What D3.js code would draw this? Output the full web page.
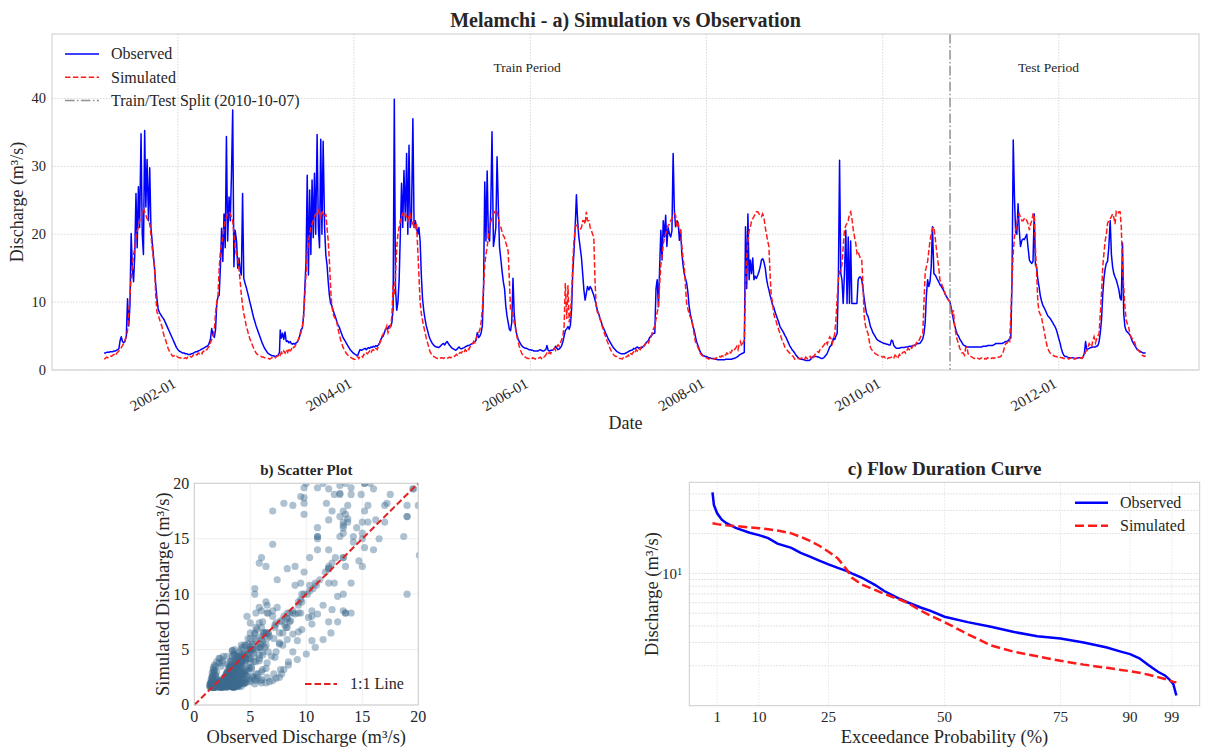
<!DOCTYPE html>
<html><head><meta charset="utf-8">
<script src="https://cdn.jsdelivr.net/npm/d3@7"></script>
<style>
body{margin:0;background:#fff}
svg text{font-family:"Liberation Serif","Times New Roman",serif;fill:#262626}
</style>
</head><body>
<svg id="chart" width="1208" height="749"></svg>
<script>
// ---------------- DATA ----------------
const firstMonth = "2001-03";
const lastMonth = "2012-12";
const seriesEnd = "2012-12-31";
const splitDate = "2010-10-07";
const pentadDays = [1, 6, 11, 16, 21, 26];

// Observed discharge (m3/s), one value per pentad, Mar 2001 - Dec 2012
const observed = [
// 2001 Mar-Dec
2.5,2.5,2.6,2.6,2.6,2.7, 2.7,2.7,2.8,2.8,2.9,3.0, 3.1,4.3,4.9,4.2,4.0,4.2, 5.0,10.5,6.5,9.5,20.1,15.0,
13.0,17.0,26.0,18.0,27.0,21.0, 34.8,20.0,17.0,35.3,24.0,31.0, 22.0,29.8,21.0,19.0,17.0,15.0,
12.5,10.5,9.0,8.5,8.2,7.9, 7.6,7.3,6.9,6.5,6.1,5.7, 5.3,4.9,4.5,4.1,3.7,3.3,
// 2002
3.0,2.8,2.7,2.6,2.5,2.5, 2.4,2.4,2.3,2.3,2.3,2.4, 2.4,2.5,2.6,2.7,2.7,2.8, 2.9,3.0,3.1,3.2,3.3,3.4,
3.5,3.6,4.0,4.6,6.1,5.2, 4.8,6.0,9.8,10.8,11.0,15.2, 20.9,16.0,23.0,18.0,34.4,19.0, 25.5,22.0,29.0,38.3,15.2,20.6,
19.0,15.0,16.5,14.7,14.0,26.0, 13.5,12.8,12.2,11.5,10.8,10.0, 9.2,8.4,7.7,7.1,6.5,6.0, 5.5,5.0,4.5,4.0,3.6,3.2,
// 2003
2.9,2.6,2.4,2.3,2.2,2.1, 2.1,2.0,2.0,2.1,2.2,2.6, 5.9,4.7,5.4,4.5,5.6,4.2, 4.3,4.0,4.2,3.9,3.8,3.9,
3.8,4.0,4.1,4.5,5.0,5.9, 6.2,8.0,12.0,16.0,28.7,14.0, 26.5,17.0,28.0,19.5,29.0,20.0, 34.7,21.0,18.0,34.0,20.0,33.7,
21.0,17.0,15.5,13.0,11.0,9.8, 9.5,8.8,8.3,7.8,7.2,6.7, 6.3,5.8,5.3,4.8,4.5,4.2, 3.9,3.6,3.3,3.0,2.8,2.6,
// 2004
2.4,2.3,2.2,2.1,2.6,3.0, 2.9,3.0,3.1,3.2,3.0,3.2, 3.3,3.2,3.4,3.3,3.5,3.4, 3.6,3.5,3.7,4.0,4.5,4.8,
5.0,5.5,6.0,6.2,6.1,6.5, 6.4,7.0,9.0,39.9,12.0,8.8, 10.0,13.2,20.0,27.5,21.0,29.4, 22.0,31.9,20.0,33.1,21.0,22.0,
37.0,21.0,22.0,21.0,20.0,21.0, 19.0,14.0,10.5,8.8,7.6,6.6, 5.8,5.1,4.6,4.2,3.9,3.7, 3.5,3.4,3.4,3.3,3.4,3.6,
// 2005
3.8,3.9,3.7,4.0,4.2,3.9, 3.6,3.4,3.2,3.1,3.0,2.9, 3.0,3.2,3.4,3.2,3.1,3.2, 3.3,3.4,3.5,3.6,3.6,3.7,
3.8,3.9,4.0,4.2,4.4,5.5, 4.8,5.0,5.5,6.5,12.0,27.7, 19.0,29.3,19.5,19.0,24.0,35.1, 18.2,19.5,21.0,31.4,24.5,18.2,
16.2,14.5,13.0,12.0,9.5,8.0, 7.0,6.0,5.8,7.0,13.5,8.3, 6.0,5.2,4.6,4.2,3.9,3.6, 3.4,3.3,3.2,3.2,3.1,3.0,
// 2006
3.0,2.9,2.9,2.8,2.8,2.8, 2.8,2.9,3.0,2.9,2.8,2.8, 2.9,3.0,3.6,2.9,2.8,2.9, 2.9,3.0,3.2,3.5,3.2,3.0,
3.1,3.3,3.6,4.2,5.0,5.8, 6.1,6.4,6.0,6.6,9.0,14.5, 17.5,21.1,25.8,22.0,19.6,18.2, 16.5,14.2,11.8,10.3,11.3,12.3,
11.8,12.3,12.0,11.5,11.0,10.3, 9.6,8.8,8.3,7.7,7.2,6.6, 6.1,5.7,5.3,4.9,4.5,4.2, 3.9,3.6,3.3,3.1,2.9,2.7,
// 2007
2.6,2.5,2.4,2.4,2.4,2.4, 2.5,2.6,2.7,2.8,2.9,2.9, 3.0,3.2,3.1,3.3,3.4,3.2, 3.3,3.2,3.4,3.5,3.7,4.0,
4.2,4.4,4.8,5.0,5.2,5.4, 5.4,12.0,13.3,9.3,15.0,20.6, 16.2,22.0,19.6,22.8,18.2,21.0, 20.0,19.6,20.5,31.9,23.6,21.1,
22.0,21.6,19.1,20.6,17.2,15.5, 14.2,13.5,12.8,11.5,9.5,8.3, 7.3,6.4,5.9,5.0,4.2,3.7, 3.2,2.7,2.4,2.2,2.1,2.0,
// 2008
2.0,1.9,1.8,1.8,1.7,1.7, 1.7,1.6,1.6,1.5,1.5,1.5, 1.5,1.5,1.5,1.5,1.6,1.6, 1.6,1.6,1.6,1.6,1.7,1.7,
1.8,1.9,2.0,2.2,2.3,2.4, 2.5,2.6,21.1,12.0,23.0,13.3, 16.2,14.2,16.5,13.3,13.8,13.5, 14.0,14.5,15.2,16.2,16.4,16.0,
15.0,13.5,12.5,11.8,11.0,10.3, 9.6,9.3,8.6,8.1,7.6,7.1, 6.4,6.1,5.8,5.5,5.1,4.8, 4.4,4.0,3.6,3.3,3.0,2.8,
// 2009
2.5,2.2,2.0,1.8,1.7,1.6, 1.6,1.5,1.5,1.4,1.4,1.4, 1.4,1.5,1.7,1.9,2.0,2.0, 2.0,1.9,1.9,1.8,1.7,1.7,
1.8,2.0,2.2,2.5,2.9,3.4, 3.6,4.2,4.7,4.5,5.0,5.4, 13.3,30.9,14.2,13.3,9.8,14.0, 20.6,9.8,19.6,9.8,19.0,9.8,
9.8,9.8,9.8,9.8,13.3,13.7, 13.7,13.3,12.0,10.5,9.3,8.3, 7.9,7.2,6.4,6.0,5.5,5.2, 4.9,4.6,4.4,4.3,4.2,4.1,
// 2010
4.0,3.9,3.9,3.8,3.8,3.7, 3.7,4.4,4.3,3.6,3.4,3.2, 3.2,3.2,3.2,3.3,3.3,3.3, 3.3,3.4,3.4,3.4,3.5,3.5,
3.5,3.6,3.6,3.7,3.8,3.9, 3.9,4.0,4.3,4.6,5.4,7.0, 11.0,13.3,12.3,13.0,15.2,21.1, 14.2,14.0,13.7,13.3,13.0,12.6,
12.3,12.0,11.7,11.2,10.9,10.6, 10.3,10.1,9.3,8.5,7.4,6.6, 5.8,5.3,5.0,4.6,4.3,4.0, 3.7,3.6,3.5,3.4,3.4,3.4,
// 2011
3.4,3.4,3.4,3.4,3.4,3.4, 3.4,3.4,3.4,3.4,3.5,3.5, 3.5,3.5,3.6,3.6,3.6,3.6, 3.6,3.7,3.8,3.9,3.9,3.9,
3.9,3.9,3.9,4.0,4.1,4.2, 4.2,4.4,4.6,4.7,13.3,33.9, 25.5,20.3,20.0,24.5,20.6,18.2, 19.1,19.3,19.2,19.6,20.0,18.2,
16.2,15.9,15.7,16.0,23.0,15.5, 15.2,13.3,12.3,11.0,10.2,9.6, 9.2,8.8,8.4,8.0,7.8,7.6, 7.3,7.0,6.7,6.4,6.0,5.4,
// 2012
4.6,4.0,3.2,2.6,2.2,2.0, 2.0,1.9,1.8,1.8,1.8,1.8, 1.8,1.7,1.7,1.7,1.8,1.8, 1.8,1.8,1.9,2.5,4.2,2.9,
3.1,3.2,3.3,3.3,3.4,3.4, 3.4,3.5,3.6,4.2,5.5,7.4, 11.0,13.5,14.9,15.7,16.0,18.0, 22.0,17.0,15.2,14.2,13.7,13.3,
12.5,11.8,10.6,10.3,18.7,8.3, 6.4,5.8,5.6,5.4,5.2,4.8, 4.2,3.9,3.6,3.3,3.0,2.9, 2.8,2.7,2.6,2.5,2.5,2.5
];

// Simulated discharge (m3/s), same pentads
const simulated = [
// 2001 Mar-Dec
1.6,1.7,1.9,1.8,2.0,2.1, 2.0,2.2,2.3,2.1,2.4,2.6, 2.8,3.0,3.3,3.6,3.9,4.3, 5.0,5.8,8.3,11.0,13.5,15.5,
17.0,18.0,19.5,20.5,21.0,22.0, 22.5,23.5,23.8,23.3,22.8,22.3, 22.0,21.5,20.0,18.0,16.5,15.0,
11.0,8.5,8.2,7.5,7.0,6.5, 5.5,4.8,4.4,3.8,3.2,2.8, 2.5,2.2,2.0,2.1,1.9,2.0,
// 2002
1.9,1.8,1.8,1.7,1.8,1.7, 1.8,1.7,1.9,1.8,2.0,1.9, 2.0,2.2,2.1,2.3,2.2,2.5, 2.4,2.6,2.4,2.8,2.7,3.0,
3.0,3.3,3.5,4.0,4.5,5.0, 6.0,8.5,10.0,11.0,15.0,17.5, 18.5,19.5,21.0,22.0,22.5,23.0, 23.3,23.0,22.5,22.0,20.0,18.0,
17.0,16.5,15.0,13.0,11.0,9.5, 8.3,7.5,6.5,5.9,5.2,4.6, 4.1,3.6,3.2,2.8,2.5,2.3, 2.2,2.1,2.0,1.9,1.9,1.8,
// 2003
1.8,1.7,1.7,1.6,1.7,1.8, 1.8,1.7,1.9,2.0,2.1,2.4, 2.2,2.6,2.3,2.8,2.5,3.0, 2.6,3.2,2.8,3.0,3.5,3.3,
3.5,3.8,4.2,4.6,5.0,5.5, 6.5,8.0,11.0,14.0,17.0,19.0, 20.0,21.0,21.5,22.0,22.5,23.0, 23.0,23.5,23.0,22.5,23.5,23.0,
22.5,23.0,21.0,19.0,16.0,12.0, 9.5,8.3,7.8,7.5,7.2,6.2, 5.2,4.5,3.9,3.4,3.0,2.7, 2.4,2.2,2.0,1.9,1.8,1.7,
// 2004
1.6,1.6,1.8,2.0,1.7,2.0, 2.1,1.9,2.3,2.2,2.5,2.4, 2.6,2.8,2.5,2.9,3.0,2.8, 3.2,3.0,3.5,3.9,4.3,5.0,
5.3,5.8,6.0,6.5,5.5,6.0, 6.5,8.0,12.5,11.0,14.0,18.0, 20.0,21.0,22.0,22.5,23.0,22.5, 23.0,22.5,22.0,22.8,23.0,22.0,
21.5,21.8,21.0,21.6,18.0,14.0, 10.0,8.3,7.3,6.4,5.6,4.8, 4.0,3.3,2.7,2.4,2.2,2.0, 1.9,1.8,1.7,1.8,1.7,1.8,
// 2005
1.8,1.7,1.8,1.7,1.7,1.8, 1.9,1.8,2.0,2.1,2.0,2.2, 2.3,2.1,2.4,2.6,2.5,2.8, 2.6,3.0,2.8,3.2,3.0,3.4,
3.5,3.8,4.2,4.0,4.6,5.0, 5.5,6.0,7.0,9.0,12.3,15.5, 17.0,18.2,19.5,21.0,21.8,22.5, 23.0,23.3,23.3,23.5,22.5,21.5,
21.0,20.3,19.8,19.5,18.8,18.2, 17.5,13.3,8.8,8.5,8.3,7.0, 6.2,5.0,4.2,3.5,2.9,2.5, 2.2,2.0,1.9,1.8,1.7,1.7,
// 2006
1.7,1.6,1.8,1.7,1.6,1.8, 1.7,1.8,1.9,1.7,2.0,1.9, 2.0,2.2,2.5,2.3,2.6,2.4, 2.8,3.0,3.2,2.9,3.4,3.7,
3.5,4.0,4.5,5.0,6.5,12.8, 7.5,12.5,7.0,8.3,10.8,16.0, 19.0,21.1,21.6,21.0,20.6,20.6, 21.0,22.0,22.0,21.5,23.3,22.0,
22.0,21.0,20.6,20.0,19.6,13.3, 9.3,8.5,8.3,7.6,7.0,6.4, 5.8,5.2,4.7,4.2,3.8,3.3, 2.9,2.6,2.3,2.1,2.0,2.0,
// 2007
1.8,1.7,1.7,1.6,1.8,1.7, 1.9,2.0,2.2,2.0,2.4,2.3, 2.5,2.7,2.5,3.0,2.8,3.2, 3.0,3.4,3.2,3.5,3.8,4.0,
4.3,4.0,4.5,4.8,5.5,6.0, 6.5,7.5,8.5,9.3,12.5,15.5, 16.7,18.5,19.5,20.0,20.6,21.3, 21.5,22.0,22.3,22.6,23.0,22.8,
21.0,21.5,20.8,20.6,18.2,16.5, 15.2,12.5,9.8,9.0,8.3,7.8, 7.4,6.5,5.2,4.2,3.9,3.4, 3.0,2.5,2.2,2.1,2.0,2.0,
// 2008
1.8,1.7,1.6,1.7,1.6,1.7, 1.6,1.7,1.8,1.7,1.9,2.0, 1.9,2.1,2.0,2.3,2.2,2.5, 2.3,2.6,2.5,2.9,2.7,3.0,
3.2,3.5,3.0,3.8,4.2,3.5, 4.0,4.4,12.3,16.7,19.0,20.5, 21.0,22.0,22.3,22.6,23.0,23.3, 23.3,23.0,22.8,22.6,23.0,22.5,
21.0,20.0,19.0,18.2,14.0,10.8, 10.0,8.3,7.6,7.2,6.5,6.0, 5.4,4.8,4.2,3.9,3.4,3.1, 2.9,2.7,2.5,2.3,2.1,2.0,
// 2009
1.6,1.7,1.6,1.7,1.6,1.7, 1.8,1.7,1.6,1.9,1.7,1.6, 1.8,2.0,1.7,2.2,1.9,2.3, 2.4,2.7,2.6,3.0,3.2,3.4,
3.6,3.9,4.2,3.8,4.4,4.9, 4.6,3.9,4.5,5.4,7.4,10.5, 13.3,14.5,14.7,15.5,18.2,20.5, 21.3,21.6,22.0,23.0,23.3,22.4,
20.6,19.6,18.7,17.2,17.5,16.8, 16.5,16.2,12.5,8.0,6.6,5.9, 5.4,4.3,3.3,3.0,2.8,2.6, 2.4,2.3,2.2,2.1,2.0,2.0,
// 2010
1.9,2.0,1.8,1.9,1.7,1.8, 1.8,1.9,2.0,1.8,2.2,2.0, 2.2,1.9,2.3,2.1,2.4,2.6, 2.7,2.5,2.9,3.2,3.0,3.4,
3.2,3.5,3.9,3.6,4.0,4.4, 4.4,4.8,5.2,5.4,10.0,14.5, 15.2,16.0,17.5,19.1,20.0,20.8, 21.1,19.6,18.0,16.5,15.2,13.3,
12.8,12.3,12.0,11.3,10.8,10.5, 10.3,10.0,9.0,8.3,8.8,6.5, 5.2,4.4,3.9,3.2,2.9,2.5, 2.5,2.2,3.3,3.4,2.4,2.1,
// 2011
2.0,1.9,1.8,1.7,1.7,1.8, 1.7,1.6,1.7,1.8,1.7,1.6, 1.7,1.6,1.8,1.7,1.6,1.7, 1.8,1.7,1.8,1.9,1.8,1.9,
1.9,2.0,2.4,2.7,3.4,3.9, 4.0,4.4,4.2,8.0,13.3,17.2, 19.6,20.5,21.5,22.6,23.0,22.5, 22.0,22.0,22.3,22.4,22.0,21.6,
20.6,21.5,22.0,23.0,23.0,18.0, 14.2,10.0,8.6,8.2,7.9,6.8, 5.8,4.8,3.9,3.2,2.8,2.5, 2.4,2.2,2.1,2.0,2.0,1.9,
// 2012
2.0,1.9,1.8,1.8,1.7,1.7, 1.7,1.8,1.6,1.7,1.8,1.6, 1.7,1.6,1.7,1.8,1.7,1.6, 1.8,1.7,2.0,2.2,2.7,2.9,
3.4,3.9,3.6,3.4,4.4,4.9, 4.0,4.6,5.0,5.4,8.3,11.3, 15.2,17.2,19.0,20.0,21.6,22.0, 22.3,22.6,23.0,22.5,21.5,23.3,
23.0,23.3,23.3,21.1,15.2,12.3, 9.3,7.4,6.8,6.4,5.4,4.9, 4.6,4.4,4.0,3.4,3.1,2.9, 2.7,2.5,2.2,2.1,2.0,2.1
];

const yTicksTop = [0, 10, 20, 30, 40];
const xTickLabels = ["2002-01", "2004-01", "2006-01", "2008-01", "2010-01", "2012-01"];
const legendTop = ["Observed", "Simulated", "Train/Test Split (2010-10-07)"];
const periodLabels = ["Train Period", "Test Period"];

const scatterTicks = [0, 5, 10, 15, 20];

// Flow duration curve
const fdcProb = [0,0.3,1,2,3,5,8,10,12,14,17,19,21,23,25,27,29,30,32,35,37,40,42,45,47,50,55,60,65,70,75,80,85,88,90,92,94,96,97.5,98.5,99.3,99.97];
const fdcObs = [41.0,33.0,28.5,25.5,24.0,22.1,20.3,19.5,18.5,16.8,15.6,14.3,13.4,12.5,11.7,11.0,10.4,10.0,9.35,8.2,7.36,6.5,6.05,5.5,5.2,4.7,4.28,3.95,3.6,3.35,3.21,3.0,2.75,2.56,2.45,2.28,2.02,1.8,1.69,1.57,1.46,1.19];
const fdcSim = [24.0,23.9,23.6,23.3,23.1,22.8,22.3,22.0,21.6,21.1,20.1,18.9,17.6,16.2,14.6,13.0,10.6,9.3,8.3,7.5,7.0,6.4,6.0,5.2,4.78,4.28,3.47,2.85,2.55,2.36,2.18,2.04,1.93,1.86,1.82,1.77,1.71,1.64,1.59,1.55,1.51,1.50];
const fdcTicks = [1, 10, 25, 50, 75, 90, 99];

// ---------------- DRAWING ----------------
const svg = d3.select("#chart");
const C_OBS = "#0000ff", C_SIM = "#ff1a1a", GRID = "#cfcfcf", SPINE = "#cccccc";

// build pentad dates
const parseYM = d3.timeParse("%Y-%m");
const parseD = d3.timeParse("%Y-%m-%d");
const dates = [];
for (let m = parseYM(firstMonth); m <= parseYM(lastMonth); m = d3.timeMonth.offset(m, 1)) {
  for (const d of pentadDays) dates.push(new Date(m.getFullYear(), m.getMonth(), d));
}
const n = Math.min(dates.length, observed.length, simulated.length);
const ts = d3.range(n).map(i => ({date: dates[i], obs: observed[i], sim: simulated[i]}));

// ---- a) time series ----
const A = {l: 52, t: 34, r: 1199, b: 370};
const t0 = dates[0], t1 = parseD(seriesEnd);
const span = t1 - t0;
const x = d3.scaleTime().domain([new Date(+t0 - 0.05 * span), new Date(+t1 + 0.05 * span)]).range([A.l, A.r]);
const y = d3.scaleLinear().domain([0, 49.5]).range([A.b, A.t]);

const gA = svg.append("g");
const tickDates = xTickLabels.map(s => parseYM(s));
gA.selectAll(".vg").data(tickDates).join("line")
  .attr("x1", d => x(d)).attr("x2", d => x(d)).attr("y1", A.t).attr("y2", A.b)
  .attr("stroke", GRID).attr("stroke-width", 0.8).attr("stroke-dasharray", "1.5,1.5");
gA.selectAll(".hg").data(yTicksTop).join("line")
  .attr("x1", A.l).attr("x2", A.r).attr("y1", d => y(d)).attr("y2", d => y(d))
  .attr("stroke", GRID).attr("stroke-width", 0.8).attr("stroke-dasharray", "1.5,1.5");

svg.append("clipPath").attr("id", "clipA").append("rect")
  .attr("x", A.l).attr("y", A.t).attr("width", A.r - A.l).attr("height", A.b - A.t);

const lineObs = d3.line().x(d => x(d.date)).y(d => y(d.obs));
const lineSim = d3.line().x(d => x(d.date)).y(d => y(d.sim));
gA.append("path").datum(ts).attr("d", lineObs).attr("fill", "none")
  .attr("stroke", C_OBS).attr("stroke-width", 1.5).attr("stroke-linejoin", "round")
  .attr("clip-path", "url(#clipA)");
gA.append("path").datum(ts).attr("d", lineSim).attr("fill", "none")
  .attr("stroke", C_SIM).attr("stroke-width", 1.5).attr("stroke-dasharray", "5.5,2.4")
  .attr("clip-path", "url(#clipA)");

const split = parseD(splitDate);
gA.append("line").attr("x1", x(split)).attr("x2", x(split)).attr("y1", A.t).attr("y2", A.b)
  .attr("stroke", "#808080").attr("stroke-opacity", 0.85).attr("stroke-width", 1.5)
  .attr("stroke-dasharray", "9.6,2.4,1.5,2.4");

gA.append("rect").attr("x", A.l).attr("y", A.t).attr("width", A.r - A.l).attr("height", A.b - A.t)
  .attr("fill", "none").attr("stroke", SPINE).attr("stroke-width", 1);

// period labels
const mid1 = new Date((+t0 + +split) / 2), mid2 = new Date((+split + +t1) / 2);
gA.selectAll(".pl").data([[mid1, periodLabels[0]], [mid2, periodLabels[1]]]).join("text")
  .attr("x", d => x(d[0])).attr("y", 72).attr("text-anchor", "middle")
  .attr("font-size", 13.5).text(d => d[1]);

// y ticks
gA.selectAll(".yt").data(yTicksTop).join("text")
  .attr("x", A.l - 6).attr("y", d => y(d)).attr("dy", "0.34em").attr("text-anchor", "end")
  .attr("font-size", 14.5).text(d => d);
// x ticks rotated
gA.selectAll(".xt").data(xTickLabels).join("text")
  .attr("transform", s => `translate(${x(parseYM(s)) - 7},${A.b + 6}) rotate(-30)`)
  .attr("text-anchor", "end").attr("dy", "0.8em").attr("font-size", 15).text(s => s);

gA.append("text").attr("x", (A.l + A.r) / 2).attr("y", 429).attr("text-anchor", "middle")
  .attr("font-size", 18).text("Date");
gA.append("text").attr("transform", `translate(23,${(A.t + A.b) / 2}) rotate(-90)`)
  .attr("text-anchor", "middle").attr("font-size", 18).text("Discharge (m³/s)");
svg.append("text").attr("x", (A.l + A.r) / 2).attr("y", 27).attr("text-anchor", "middle")
  .attr("font-size", 20).attr("font-weight", "bold").text("Melamchi - a) Simulation vs Observation");

// legend a)
const legA = gA.append("g");
const legStyles = [
  {c: C_OBS, dash: null, op: 1},
  {c: C_SIM, dash: "5.5,2.4", op: 1},
  {c: "#808080", dash: "9.6,2.4,1.5,2.4", op: 0.85}
];
legendTop.forEach((lab, i) => {
  const yy = 54 + i * 23.3;
  legA.append("line").attr("x1", 65).attr("x2", 99).attr("y1", yy).attr("y2", yy)
    .attr("stroke", legStyles[i].c).attr("stroke-width", 1.5).attr("stroke-opacity", legStyles[i].op)
    .attr("stroke-dasharray", legStyles[i].dash);
  legA.append("text").attr("x", 111).attr("y", yy).attr("dy", "0.33em").attr("font-size", 16).text(lab);
});

// ---- b) scatter ----
const B = {l: 194.3, t: 483.3, r: 418.3, b: 705};
const xs = d3.scaleLinear().domain([0, 20]).range([B.l, B.r]);
const ys = d3.scaleLinear().domain([0, 20]).range([B.b, B.t]);
const gB = svg.append("g");
gB.selectAll(".vg").data(scatterTicks).join("line")
  .attr("x1", d => xs(d)).attr("x2", d => xs(d)).attr("y1", B.t).attr("y2", B.b)
  .attr("stroke", "#ebebeb").attr("stroke-width", 0.8);
gB.selectAll(".hg").data(scatterTicks).join("line")
  .attr("x1", B.l).attr("x2", B.r).attr("y1", d => ys(d)).attr("y2", d => ys(d))
  .attr("stroke", "#ebebeb").attr("stroke-width", 0.8);
svg.append("clipPath").attr("id", "clipB").append("rect")
  .attr("x", B.l).attr("y", B.t).attr("width", B.r - B.l).attr("height", B.b - B.t);
gB.append("g").attr("clip-path", "url(#clipB)").selectAll("circle").data(ts).join("circle")
  .attr("cx", d => xs(d.obs)).attr("cy", d => ys(d.sim)).attr("r", 3.6)
  .attr("fill", "#3d6b8e").attr("fill-opacity", 0.42);
gB.append("line").attr("x1", xs(0)).attr("y1", ys(0)).attr("x2", xs(20)).attr("y2", ys(20))
  .attr("stroke", "#e02222").attr("stroke-width", 2).attr("stroke-dasharray", "6.5,3");
gB.append("rect").attr("x", B.l).attr("y", B.t).attr("width", B.r - B.l).attr("height", B.b - B.t)
  .attr("fill", "none").attr("stroke", SPINE).attr("stroke-width", 1);
gB.selectAll(".yt").data(scatterTicks).join("text")
  .attr("x", B.l - 5).attr("y", d => ys(d)).attr("dy", "0.34em").attr("text-anchor", "end")
  .attr("font-size", 16).text(d => d);
gB.selectAll(".xt").data(scatterTicks).join("text")
  .attr("x", d => xs(d)).attr("y", 722).attr("text-anchor", "middle")
  .attr("font-size", 16).text(d => d);
gB.append("text").attr("x", (B.l + B.r) / 2).attr("y", 743).attr("text-anchor", "middle")
  .attr("font-size", 18.5).text("Observed Discharge (m³/s)");
gB.append("text").attr("transform", `translate(169,${(B.t + B.b) / 2}) rotate(-90)`)
  .attr("text-anchor", "middle").attr("font-size", 18.5).text("Simulated Discharge (m³/s)");
gB.append("text").attr("x", (B.l + B.r) / 2).attr("y", 475).attr("text-anchor", "middle")
  .attr("font-size", 15).attr("font-weight", "bold").text("b) Scatter Plot");
gB.append("line").attr("x1", 305).attr("x2", 337).attr("y1", 684).attr("y2", 684)
  .attr("stroke", "#e02222").attr("stroke-width", 2).attr("stroke-dasharray", "6.5,3");
gB.append("text").attr("x", 350).attr("y", 684).attr("dy", "0.33em").attr("font-size", 16).text("1:1 Line");

// ---- c) flow duration curve ----
const Cc = {l: 689.3, t: 482.3, r: 1199.7, b: 705.7};
const xf = d3.scaleLinear().domain([-5, 105]).range([Cc.l, Cc.r]);
const allF = fdcObs.concat(fdcSim);
const lo = Math.log10(d3.min(allF)), hi = Math.log10(d3.max(allF)), pad = 0.05 * (hi - lo);
const yf = d3.scaleLog().domain([Math.pow(10, lo - pad), Math.pow(10, hi + pad)]).range([Cc.b, Cc.t]);
const gC = svg.append("g");
const minorVals = [2,3,4,5,6,7,8,9,10,20,30,40].filter(v => v >= yf.domain()[0] && v <= yf.domain()[1]);
gC.selectAll(".hg").data(minorVals).join("line")
  .attr("x1", Cc.l).attr("x2", Cc.r).attr("y1", d => yf(d)).attr("y2", d => yf(d))
  .attr("stroke", GRID).attr("stroke-width", 0.8).attr("stroke-dasharray", "1.5,1.5");
gC.selectAll(".vg").data(fdcTicks).join("line")
  .attr("x1", d => xf(d)).attr("x2", d => xf(d)).attr("y1", Cc.t).attr("y2", Cc.b)
  .attr("stroke", "#e2e2e2").attr("stroke-width", 0.8).attr("stroke-dasharray", "1.5,1.5");
const fdcData = fdcProb.map((p, i) => ({p, o: fdcObs[i], s: fdcSim[i]}));
gC.append("path").datum(fdcData).attr("fill", "none").attr("stroke", C_OBS).attr("stroke-width", 2.5)
  .attr("d", d3.line().x(d => xf(d.p)).y(d => yf(d.o)));
gC.append("path").datum(fdcData).attr("fill", "none").attr("stroke", C_SIM).attr("stroke-width", 2.5)
  .attr("stroke-dasharray", "9,4").attr("d", d3.line().x(d => xf(d.p)).y(d => yf(d.s)));
gC.append("rect").attr("x", Cc.l).attr("y", Cc.t).attr("width", Cc.r - Cc.l).attr("height", Cc.b - Cc.t)
  .attr("fill", "none").attr("stroke", SPINE).attr("stroke-width", 1);
gC.selectAll(".xt").data(fdcTicks).join("text")
  .attr("x", d => xf(d)).attr("y", 722).attr("text-anchor", "middle").attr("font-size", 15).text(d => d);
const t10 = gC.append("text").attr("x", Cc.l - 7).attr("y", yf(10)).attr("dy", "0.4em")
  .attr("text-anchor", "end").attr("font-size", 15);
t10.append("tspan").text("10");
t10.append("tspan").attr("dy", "-0.45em").attr("font-size", 10.5).text("1");
gC.append("text").attr("x", (Cc.l + Cc.r) / 2).attr("y", 743).attr("text-anchor", "middle")
  .attr("font-size", 18.5).text("Exceedance Probability (%)");
gC.append("text").attr("transform", `translate(658,${(Cc.t + Cc.b) / 2}) rotate(-90)`)
  .attr("text-anchor", "middle").attr("font-size", 18.5).text("Discharge (m³/s)");
gC.append("text").attr("x", (Cc.l + Cc.r) / 2).attr("y", 475).attr("text-anchor", "middle")
  .attr("font-size", 19).attr("font-weight", "bold").text("c) Flow Duration Curve");
[["Observed", C_OBS, null, 502.7], ["Simulated", C_SIM, "9,4", 525.7]].forEach(([lab, c, dash, yy]) => {
  gC.append("line").attr("x1", 1075).attr("x2", 1108).attr("y1", yy).attr("y2", yy)
    .attr("stroke", c).attr("stroke-width", 2.5).attr("stroke-dasharray", dash);
  gC.append("text").attr("x", 1120).attr("y", yy).attr("dy", "0.33em").attr("font-size", 16).text(lab);
});
</script>
</body></html>
